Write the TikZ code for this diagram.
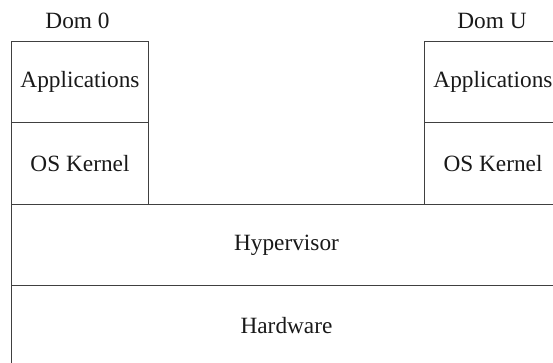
\documentclass[tikz,border=0pt]{standalone}
\usepackage{fontspec}
\setmainfont{Liberation Serif}
\newfontfamily\tnrfont{Liberation Serif}
\begin{document}
\begin{tikzpicture}[x=1pt,y=-1pt,
  txt/.style={font=\tnrfont\fontsize{23.3}{28}\selectfont, text=black!90},
  layer/.style={txt, draw=black!75, line width=1pt, inner sep=0pt, anchor=north west, rectangle},
  lbl/.style={txt, inner sep=0pt, anchor=base}]
\useasboundingbox (0,0) rectangle (553,362);
\clip (0,0) rectangle (553,362);
% Dom 0
\node[layer, minimum width=137pt, minimum height=81.3pt] (app0) at (11,40.7) {Applications};
\node[layer, minimum width=137pt, minimum height=82.3pt] (os0) at (11,122) {OS Kernel};
% Dom U
\node[layer, minimum width=137pt, minimum height=81.3pt] (appU) at (424,40.7) {Applications};
\node[layer, minimum width=137pt, minimum height=82.3pt] (osU) at (424,122) {OS Kernel};
% Hypervisor and hardware
\node[layer, minimum width=550pt, minimum height=80.4pt] (hyp) at (11,204.3) {Hypervisor};
\node[layer, minimum width=550pt, minimum height=80.3pt] (hw) at (11,284.7) {Hardware};
% titles
\node[lbl] (d0) at (77.5,28.3) {Dom 0};
\node[lbl] (dU) at (492,28.3) {Dom U};
\end{tikzpicture}
\end{document}
